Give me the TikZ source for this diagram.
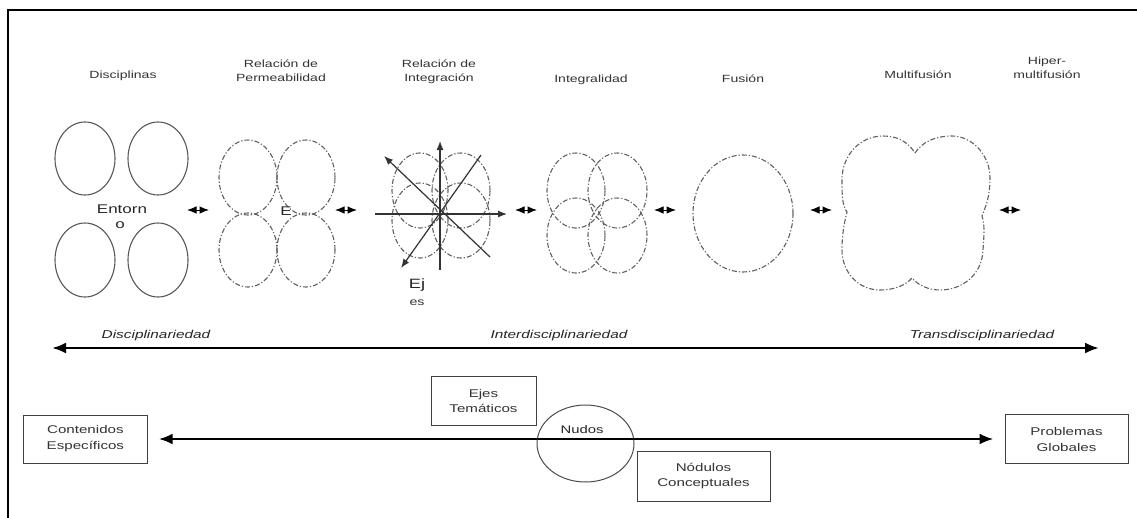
\documentclass[tikz,border=0pt]{standalone}
\usepackage{fontspec}
\setmainfont{Liberation Sans}[FakeStretch=1.35]
\usetikzlibrary{arrows.meta,shapes.geometric}
\tikzset{
  ddot/.style={draw=black!62, line width=1.1pt, dash pattern=on 5pt off 2pt on 1.2pt off 2pt},
  solidell/.style={draw=black!65, line width=1.1pt},
  title/.style={font=\fontsize{10.4}{14}\selectfont, text=black!80, align=center, inner sep=0pt},
  ital/.style={font=\fontsize{11.4}{14}\selectfont\itshape, text=black!85, inner sep=0pt},
  boxnode/.style={draw=black!75, line width=1pt, align=center, inner sep=0pt,
    font=\fontsize{11.2}{16}\selectfont, text=black!80},
  bigtext/.style={font=\fontsize{12.6}{15}\selectfont, text=black!85, inner sep=0pt},
  bigarrow/.style={line width=2.6pt, {Latex[length=14pt,width=11pt]}-{Latex[length=14pt,width=11pt]}},
  minarrow/.style={line width=1pt, {Latex[length=9.5pt,width=7.5pt]}-{Latex[length=9.5pt,width=7.5pt]}},
  axis/.style={line width=1.2pt, draw=black!80},
  axarrow/.style={axis, -{Latex[length=9pt,width=7pt]}}
}
\begin{document}
\begin{tikzpicture}[x=1pt,y=-1pt]
\useasboundingbox (0,0) rectangle (1137,517);
\clip (0,0) rectangle (1137,517);
\fill[white] (0,0) rectangle (1137,517);
% frame
\draw[line width=2pt] (8,10) rectangle (1160,540);

% titles
\node[title] (t1) at (123,76) {Disciplinas};
\node[title] (t2) at (281,71) {Relación de\\Permeabilidad};
\node[title] (t3) at (439,71.5) {Relación de\\Integración};
\node[title] (t4) at (591,80) {Integralidad};
\node[title] (t5) at (743,79) {Fusión};
\node[title] (t6) at (918,75) {Multifusión};
\node[title] (t7) at (1047,68) {Hiper-\\multifusión};

% Disciplinas
\draw[solidell] (85,158.5) ellipse [x radius=30pt, y radius=36.5pt];
\draw[solidell] (158,158.5) ellipse [x radius=30pt, y radius=36.5pt];
\draw[solidell] (85,260) ellipse [x radius=30pt, y radius=37pt];
\draw[solidell] (158,260) ellipse [x radius=30pt, y radius=37pt];
\node[bigtext] (ent1) at (122,209) {Entorn};
\node[bigtext] (ent2) at (120,225) {o};

% Permeabilidad
\draw[ddot] (248,177.5) ellipse [x radius=29pt, y radius=37.5pt];
\draw[ddot] (306,177.5) ellipse [x radius=29pt, y radius=37.5pt];
\draw[ddot] (248,250) ellipse [x radius=29pt, y radius=37pt];
\draw[ddot] (306,250) ellipse [x radius=29pt, y radius=37pt];
\node[bigtext] (pe) at (286,211) {E};

% Integracion
\draw[ddot] (420,190.5) ellipse [x radius=28pt, y radius=37.5pt];
\draw[ddot] (461,190.5) ellipse [x radius=29pt, y radius=37.5pt];
\draw[ddot] (420,220.5) ellipse [x radius=28pt, y radius=37.5pt];
\draw[ddot] (461,220.5) ellipse [x radius=29pt, y radius=37.5pt];
\coordinate (ax) at (440,214);
\coordinate (axW) at (375,214);
\coordinate (axE) at (507,214);
\coordinate (axS) at (440,270);
\coordinate (axN) at (440,141);
\coordinate (axSE) at (490,257);
\coordinate (axNW) at (384,156);
\coordinate (axNE) at (481,155);
\coordinate (axSW) at (401,268);
\draw[axarrow] (axW) -- (axE);
\draw[axarrow] (axS) -- (axN);
\draw[axarrow] (axSE) -- (axNW);
\draw[axarrow] (axNE) -- (axSW);
\node[font=\fontsize{13.5}{15}\selectfont, text=black!85, inner sep=0pt] (ej1) at (417,285) {Ej};
\node[font=\fontsize{10.5}{13}\selectfont, text=black!80, inner sep=0pt] (ej2) at (417,303) {es};

% Integralidad
\draw[ddot] (576,190.5) ellipse [x radius=29pt, y radius=37.5pt];
\draw[ddot] (617.5,190.5) ellipse [x radius=29.5pt, y radius=37.5pt];
\draw[ddot] (576,235.5) ellipse [x radius=29pt, y radius=37.5pt];
\draw[ddot] (617.5,235.5) ellipse [x radius=29.5pt, y radius=37.5pt];

% Fusion
\draw[ddot] (743,213.5) ellipse [x radius=50pt, y radius=58.5pt];

% Multifusion
\draw[ddot] (915,153) .. controls (922,142) and (935,136) .. (952,136)
  .. controls (972,136) and (990,155) .. (990,178)
  .. controls (990,198) and (985,208) .. (982,216)
  .. controls (985,225) and (984,235) .. (983,250)
  .. controls (982,275) and (962,290) .. (940,290)
  .. controls (928,290) and (918,285) .. (912,278)
  .. controls (905,286) and (893,290) .. (880,290)
  .. controls (858,290) and (842,272) .. (842,250)
  .. controls (842,232) and (845,220) .. (847,212)
  .. controls (842,205) and (842,195) .. (842,180)
  .. controls (842,155) and (860,136) .. (883,136)
  .. controls (898,136) and (908,142) .. (915,153) -- cycle;

% small double arrows
\foreach \cx [count=\i] in {198,346,526,665,821,1010}{
  \coordinate (sa\i) at (\cx-11,210);
  \coordinate (sb\i) at (\cx+11,210);
  \draw[minarrow] (sa\i) -- (sb\i);
}

% long arrow with labels
\coordinate (la) at (52,348);
\coordinate (lb) at (1099,348);
\draw[bigarrow] (la) -- (lb);
\node[ital] (i1) at (156,336) {Disciplinariedad};
\node[ital] (i2) at (559,336) {Interdisciplinariedad};
\node[ital] (i3) at (982,336) {Transdisciplinariedad};

% bottom row
\node[boxnode, minimum width=123.6pt, minimum height=48pt] (cont) at (85.4,439) {Contenidos\\Específicos};
\node[boxnode, minimum width=123pt, minimum height=48.5pt] (prob) at (1066.5,439) {Problemas\\Globales};
\node[boxnode, minimum width=105pt, minimum height=49pt, font=\fontsize{11.2}{15}\selectfont] (ejes) at (483.5,400.5) {Ejes\\Temáticos};
\node[boxnode, minimum width=133pt, minimum height=50pt, font=\fontsize{11.2}{15.5}\selectfont] (nodu) at (703.5,476) {Nódulos\\Conceptuales};
\node[draw=black!70, line width=1pt, ellipse, minimum width=97pt, minimum height=77pt, inner sep=0pt] (nudos) at (585.5,443.5) {};
\node[font=\fontsize{11}{13}\selectfont, text=black!85, inner sep=0pt] (nudt) at (582,430) {Nudos};
\draw[bigarrow, shorten <=11pt, shorten >=11pt] (cont.east) -- (prob.west);
\end{tikzpicture}
\end{document}
